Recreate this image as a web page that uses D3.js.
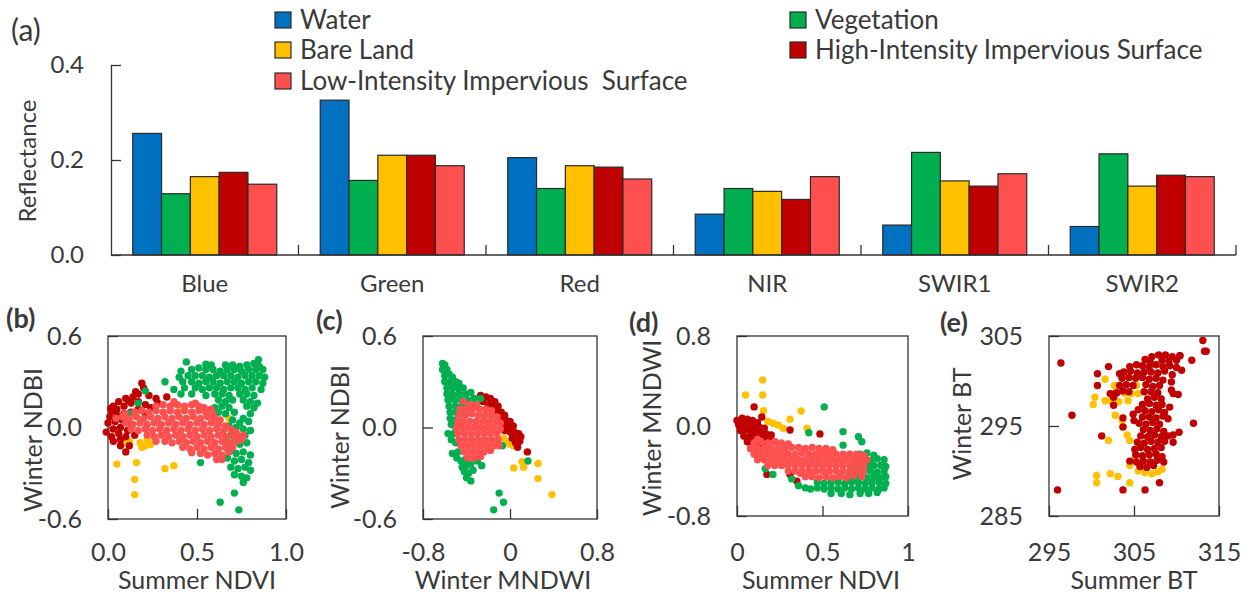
<!DOCTYPE html>
<html><head><meta charset="utf-8">
<script src="https://cdn.jsdelivr.net/npm/d3@7"></script>
<style>
body{margin:0;background:#fff}
svg text{font-family:Lato,"Open Sans",sans-serif;fill:#3a3a3a}
</style></head><body>
<svg id="c" width="1252" height="594"></svg>
<script>
// ---------- Bar chart data (a) ----------
const categories = ["Blue","Green","Red","NIR","SWIR1","SWIR2"];
const classNames = ["Water","Vegetation","Bare Land","High-Intensity Impervious Surface","Low-Intensity Impervious  Surface"];
const classColors = ["#0070C0","#00B050","#FFC000","#C00000","#FF5050"];
const water      = [0.256,0.326,0.205,0.086,0.063,0.060];
const vegetation = [0.129,0.157,0.140,0.140,0.216,0.213];
const bareLand   = [0.165,0.210,0.188,0.134,0.156,0.145];
const highImp    = [0.174,0.210,0.185,0.117,0.145,0.168];
const lowImp     = [0.149,0.188,0.160,0.165,0.171,0.165];
const reflTicks  = [0,0.2,0.4];

// ---------- Scatter (b): Summer NDVI vs Winter NDBI ----------
const bTicksX=[0,0.5,1], bLabelsX=["0.0","0.5","1.0"], bTicksY=[-0.6,0,0.6], bLabelsY=["-0.6","0.0","0.6"];
const bBare=[[0.05,-0.24],[0.16,-0.23],[0.15,-0.34],[0.15,-0.44],[0.32,-0.27],[0.37,-0.25],[0.18,-0.1],[0.21,-0.12],[0.24,-0.11],[0.22,-0.08],[0.19,-0.13],[0.1,-0.1],[0.12,-0.09],[0.68,0.06],[0.41,0.13]];
const bHigh=[[0.19,0.29],[0.2,0.26],[0.23,0.21],[0.27,0.19],[0.33,0.2],[0.17,0.22],[0.14,0.2],[0.1,0.19],[0.06,0.17],[0.03,0.14],[0.02,0.11],[0.05,0.12],[0.09,0.14],[0.13,0.16],[0.17,0.17],[0.21,0.15],[0.24,0.13],[0.28,0.16],[0.01,0.07],[0.05,0.08],[0.09,0.09],[0.13,0.1],[0.17,0.12],[0.21,0.09],[0.0,0.03],[0.04,0.04],[0.08,0.05],[0.12,0.03],[-0.01,-0.03],[0.03,-0.01],[0.07,0.0],[0.11,-0.02],[0.02,-0.06],[0.06,-0.04],[0.1,-0.06],[0.03,-0.09],[0.07,-0.08],[0.07,-0.12],[0.1,-0.16],[0.12,-0.12],[0.15,-0.05],[0.015,0.125],[0.115,0.175],[0.155,0.235]];
const bVeg=[[0.44,0.43],[0.58,0.41],[0.66,0.41],[0.70,0.41],[0.74,0.40],[0.78,0.41],[0.82,0.42],[0.85,0.40],
[0.41,0.37],[0.47,0.38],[0.51,0.39],[0.55,0.38],[0.59,0.38],[0.63,0.37],[0.67,0.38],[0.71,0.38],[0.75,0.37],[0.79,0.38],[0.83,0.38],[0.87,0.38],
[0.40,0.33],[0.45,0.34],[0.49,0.34],[0.53,0.34],[0.57,0.33],[0.61,0.34],[0.65,0.34],[0.69,0.34],[0.73,0.33],[0.77,0.34],[0.81,0.34],[0.85,0.34],
[0.32,0.30],[0.42,0.30],[0.47,0.30],[0.51,0.29],[0.55,0.30],[0.59,0.30],[0.63,0.29],[0.67,0.30],[0.71,0.30],[0.75,0.29],[0.79,0.30],[0.83,0.30],[0.87,0.29],
[0.37,0.25],[0.43,0.26],[0.49,0.26],[0.53,0.25],[0.57,0.26],[0.61,0.26],[0.65,0.25],[0.69,0.26],[0.73,0.26],[0.77,0.25],[0.81,0.26],[0.86,0.25],
[0.41,0.22],[0.47,0.22],[0.55,0.21],[0.60,0.22],[0.64,0.22],[0.68,0.21],[0.74,0.22],[0.78,0.22],[0.82,0.21],
[0.62,0.18],[0.66,0.17],[0.70,0.18],[0.76,0.18],[0.80,0.17],[0.84,0.16],
[0.60,0.13],[0.64,0.14],[0.68,0.13],[0.78,0.14],[0.82,0.13],
[0.62,0.10],[0.66,0.09],[0.71,0.10],[0.80,0.09],[0.76,0.06],
[0.70,0.05],[0.74,0.03],[0.79,0.04],[0.68,0.01],[0.72,0.0],[0.76,-0.01],[0.80,-0.02],
[0.69,-0.05],[0.73,-0.06],[0.77,-0.05],[0.66,-0.09],[0.70,-0.10],[0.74,-0.11],[0.78,-0.10],[0.67,-0.14],
[0.69,-0.15],[0.72,-0.17],[0.76,-0.16],[0.80,-0.18],[0.67,-0.20],[0.71,-0.22],[0.75,-0.21],[0.79,-0.23],
[0.69,-0.26],[0.73,-0.27],[0.77,-0.26],[0.80,-0.28],[0.71,-0.31],[0.75,-0.32],[0.78,-0.33],[0.76,-0.36],
[0.63,-0.49],[0.735,-0.54],[0.71,-0.43],[0.52,-0.23],[0.21,0.24],[0.17,0.16],[0.12,0.09],[0.88,0.33],[0.845,0.445],[0.55,0.415]];
const bLow=[[0.27,0.14],[0.31,0.15],[0.35,0.14],[0.39,0.15],[0.43,0.14],[0.47,0.15],[0.51,0.14],[0.54,0.13],[0.37,0.17],[0.49,0.16],[0.58,0.12],
[0.15,0.10],[0.19,0.11],[0.23,0.10],[0.27,0.11],[0.31,0.10],[0.35,0.11],[0.39,0.10],[0.43,0.11],[0.47,0.10],[0.51,0.11],[0.55,0.10],[0.59,0.09],
[0.08,0.07],[0.12,0.06],[0.16,0.07],[0.20,0.06],[0.24,0.07],[0.28,0.06],[0.32,0.07],[0.36,0.06],[0.40,0.07],[0.44,0.06],[0.48,0.07],[0.52,0.06],[0.56,0.07],[0.60,0.06],[0.63,0.05],
[0.10,0.03],[0.14,0.02],[0.18,0.03],[0.22,0.02],[0.26,0.03],[0.30,0.02],[0.34,0.03],[0.38,0.02],[0.42,0.03],[0.46,0.02],[0.50,0.03],[0.54,0.02],[0.58,0.03],[0.62,0.02],[0.66,0.01],
[0.13,-0.01],[0.17,-0.02],[0.21,-0.01],[0.25,-0.02],[0.29,-0.01],[0.33,-0.02],[0.37,-0.01],[0.41,-0.02],[0.45,-0.01],[0.49,-0.02],[0.53,-0.01],[0.57,-0.02],[0.61,-0.01],[0.65,-0.02],[0.69,-0.01],[0.72,-0.03],
[0.22,-0.05],[0.26,-0.06],[0.30,-0.05],[0.34,-0.06],[0.38,-0.05],[0.42,-0.06],[0.46,-0.05],[0.50,-0.06],[0.54,-0.05],[0.58,-0.06],[0.62,-0.05],[0.66,-0.06],[0.70,-0.05],[0.74,-0.06],
[0.32,-0.09],[0.36,-0.10],[0.40,-0.09],[0.44,-0.10],[0.48,-0.09],[0.52,-0.10],[0.56,-0.09],[0.60,-0.10],[0.64,-0.09],[0.68,-0.10],[0.72,-0.09],[0.75,-0.08],
[0.42,-0.13],[0.46,-0.14],[0.50,-0.13],[0.54,-0.14],[0.58,-0.13],[0.62,-0.14],[0.66,-0.13],[0.70,-0.13],
[0.52,-0.17],[0.56,-0.18],[0.60,-0.17],[0.64,-0.18],[0.68,-0.16],[0.61,-0.21],[0.64,-0.21],[0.76,-0.05],[0.095,0.09],[0.045,0.06],[0.27,-0.09],[0.47,-0.165]];

// ---------- Scatter (c): Winter MNDWI vs Winter NDBI ----------
const cTicksX=[-0.8,0,0.8], cLabelsX=["-0.8","0","0.8"], cTicksY=[-0.6,0,0.6], cLabelsY=["-0.6","0.0","0.6"];
const cBare=[[-0.03,-0.1],[0.0,-0.11],[0.03,-0.12],[0.01,-0.09],[-0.06,-0.07],[0.11,-0.225],[0.126,-0.26],[0.034,-0.265],[0.257,-0.236],[0.257,-0.335],[0.386,-0.44]];
const cHigh=[[-0.27,0.21],[-0.22,0.2],[-0.18,0.19],[-0.14,0.17],[-0.2,0.15],[-0.15,0.14],[-0.11,0.14],[-0.13,0.1],[-0.08,0.1],[-0.05,0.08],[-0.09,0.05],[-0.04,0.05],[0.0,0.04],[-0.06,0.02],[-0.01,0.01],[0.03,0.01],[-0.05,-0.02],[0.0,-0.03],[0.04,-0.03],[0.08,-0.04],[0.1,-0.06],[0.06,-0.07],[0.02,-0.07],[0.09,-0.09],[0.05,-0.1],[0.07,-0.13],[0.16,-0.16],[-0.53,0.19],[-0.25,0.17]];
const cVeg=[[-0.62,0.42],[-0.6,0.41],[-0.58,0.38],[-0.62,0.38],[-0.6,0.34],[-0.56,0.35],[-0.53,0.33],[-0.6,0.3],[-0.55,0.3],[-0.5,0.3],[-0.47,0.29],
[-0.58,0.26],[-0.53,0.26],[-0.48,0.26],[-0.43,0.26],[-0.58,0.22],[-0.53,0.22],[-0.47,0.22],[-0.41,0.22],[-0.36,0.23],
[-0.57,0.18],[-0.51,0.18],[-0.45,0.18],[-0.39,0.18],[-0.33,0.19],[-0.27,0.19],[-0.56,0.14],[-0.5,0.14],[-0.44,0.14],[-0.38,0.15],[-0.31,0.15],
[-0.55,0.1],[-0.5,0.1],[-0.44,0.1],[-0.55,0.06],[-0.5,0.05],[-0.54,0.02],[-0.5,0.0],[-0.57,-0.04],[-0.52,-0.04],[-0.54,-0.08],[-0.5,-0.1],
[-0.53,-0.17],[-0.48,-0.16],[-0.49,-0.2],[-0.45,-0.22],[-0.41,-0.21],[-0.44,-0.26],[-0.4,-0.25],[-0.36,-0.24],[-0.42,-0.29],[-0.38,-0.3],[-0.34,-0.28],
[-0.4,-0.33],[-0.36,-0.35],[-0.26,-0.25],[-0.3,-0.22],[-0.1,-0.43],[-0.06,-0.49],[-0.15,-0.54],[0.165,-0.22],[-0.07,-0.12]];
const cLow=[[-0.43,0.17],[-0.37,0.15],[-0.31,0.15],[-0.46,0.12],[-0.4,0.12],[-0.34,0.13],[-0.28,0.12],[-0.22,0.12],[-0.17,0.11],
[-0.47,0.08],[-0.41,0.08],[-0.35,0.09],[-0.29,0.08],[-0.23,0.08],[-0.17,0.08],[-0.12,0.07],
[-0.48,0.04],[-0.43,0.04],[-0.37,0.04],[-0.31,0.04],[-0.25,0.04],[-0.19,0.04],[-0.13,0.04],[-0.09,0.03],
[-0.49,0.0],[-0.45,0.0],[-0.39,0.0],[-0.33,0.0],[-0.27,0.0],[-0.21,0.0],[-0.15,0.0],[-0.09,-0.01],
[-0.48,-0.04],[-0.42,-0.04],[-0.36,-0.04],[-0.30,-0.04],[-0.24,-0.04],[-0.18,-0.04],[-0.12,-0.04],
[-0.47,-0.08],[-0.41,-0.08],[-0.35,-0.08],[-0.29,-0.08],[-0.23,-0.08],[-0.17,-0.08],[-0.11,-0.08],
[-0.45,-0.12],[-0.39,-0.12],[-0.33,-0.12],[-0.27,-0.12],[-0.21,-0.12],[-0.15,-0.12],[-0.1,-0.12],
[-0.42,-0.16],[-0.36,-0.16],[-0.3,-0.16],[-0.24,-0.16],[-0.18,-0.15],[-0.39,-0.2],[-0.33,-0.2],[-0.27,-0.19]];

// ---------- Scatter (d): Summer NDVI vs Winter MNDWI ----------
const dTicksX=[0,0.5,1], dLabelsX=["0","0.5","1"], dTicksY=[-0.8,0,0.8], dLabelsY=["-0.8","0.0","0.8"];
const dBare=[[0.15,0.41],[0.05,0.275],[0.15,0.275],[0.155,0.136],[0.31,0.06],[0.375,0.133],[0.21,0.024],[0.24,0.01],[0.27,-0.02],[0.41,-0.02],[0.18,0.04]];
const dHigh=[[0.0,0.05],[0.03,0.07],[0.06,0.06],[0.09,0.05],[0.12,0.03],[0.01,0.01],[0.04,0.02],[0.07,0.01],[0.1,0.0],[0.13,-0.01],[0.16,-0.02],
[0.02,-0.04],[0.05,-0.03],[0.08,-0.05],[0.11,-0.04],[0.14,-0.06],[0.17,-0.07],[0.2,-0.08],[0.04,-0.09],[0.07,-0.1],[0.1,-0.09],[0.13,-0.11],[0.16,-0.12],[0.19,-0.13],[0.22,-0.14],
[0.06,-0.14],[0.09,-0.15],[0.12,-0.16],[0.15,-0.18],[0.18,-0.19],[0.08,-0.2],[0.11,-0.21],[0.14,-0.24],[0.12,-0.27],[0.1,0.17],[0.145,0.08],[0.31,-0.035],[0.485,-0.07],[0.35,-0.49],[0.31,-0.43],[0.175,-0.43]];
const dVeg=[[0.72,-0.25],[0.76,-0.24],[0.8,-0.26],[0.7,-0.3],[0.74,-0.3],[0.78,-0.31],[0.82,-0.29],[0.86,-0.3],
[0.68,-0.35],[0.72,-0.35],[0.76,-0.36],[0.8,-0.35],[0.84,-0.35],[0.87,-0.36],[0.66,-0.41],[0.7,-0.4],[0.74,-0.4],[0.78,-0.4],[0.82,-0.41],[0.86,-0.4],
[0.6,-0.45],[0.64,-0.46],[0.68,-0.45],[0.72,-0.45],[0.76,-0.46],[0.8,-0.45],[0.84,-0.46],[0.87,-0.45],
[0.47,-0.5],[0.51,-0.51],[0.55,-0.5],[0.59,-0.5],[0.63,-0.51],[0.67,-0.5],[0.71,-0.5],[0.75,-0.51],[0.79,-0.5],[0.83,-0.5],[0.87,-0.51],
[0.43,-0.56],[0.47,-0.55],[0.51,-0.56],[0.55,-0.55],[0.59,-0.56],[0.63,-0.55],[0.67,-0.56],[0.71,-0.55],[0.75,-0.56],[0.79,-0.55],[0.83,-0.56],[0.86,-0.55],
[0.55,-0.6],[0.61,-0.6],[0.66,-0.61],[0.72,-0.6],[0.77,-0.6],[0.82,-0.59],
[0.51,0.17],[0.42,-0.06],[0.62,-0.05],[0.71,-0.095],[0.73,-0.14],[0.62,-0.17],[0.32,-0.47],[0.21,-0.43],[0.165,-0.38],[0.36,-0.53],[0.4,-0.55]];
const dLow=[[0.1,-0.15],[0.14,-0.14],[0.18,-0.15],[0.22,-0.14],[0.26,-0.15],[0.3,-0.16],[0.12,-0.12],
[0.08,-0.2],[0.12,-0.2],[0.16,-0.2],[0.2,-0.2],[0.24,-0.2],[0.28,-0.2],[0.32,-0.19],[0.36,-0.19],[0.4,-0.2],[0.44,-0.19],[0.48,-0.2],[0.52,-0.2],[0.56,-0.21],
[0.1,-0.25],[0.14,-0.25],[0.18,-0.25],[0.22,-0.25],[0.26,-0.25],[0.3,-0.25],[0.34,-0.25],[0.38,-0.24],[0.42,-0.25],[0.46,-0.25],[0.5,-0.25],[0.54,-0.25],[0.58,-0.25],[0.62,-0.25],[0.66,-0.25],[0.7,-0.25],[0.74,-0.26],
[0.12,-0.3],[0.16,-0.3],[0.2,-0.3],[0.24,-0.3],[0.28,-0.3],[0.32,-0.3],[0.36,-0.3],[0.4,-0.3],[0.44,-0.3],[0.48,-0.3],[0.52,-0.3],[0.56,-0.3],[0.6,-0.3],[0.64,-0.3],[0.68,-0.3],[0.72,-0.3],[0.76,-0.3],
[0.18,-0.35],[0.22,-0.35],[0.26,-0.35],[0.3,-0.35],[0.34,-0.35],[0.38,-0.35],[0.42,-0.35],[0.46,-0.35],[0.5,-0.35],[0.54,-0.35],[0.58,-0.35],[0.62,-0.35],[0.66,-0.35],[0.7,-0.35],[0.74,-0.35],
[0.3,-0.4],[0.34,-0.4],[0.38,-0.4],[0.42,-0.4],[0.46,-0.4],[0.5,-0.4],[0.54,-0.4],[0.58,-0.4],[0.62,-0.4],[0.66,-0.4],[0.7,-0.4],[0.74,-0.4],
[0.4,-0.45],[0.44,-0.45],[0.48,-0.46],[0.52,-0.45],[0.56,-0.46],[0.6,-0.45],[0.64,-0.46],[0.68,-0.44],[0.73,-0.45],[0.37,-0.42]];

// ---------- Scatter (e): Summer BT vs Winter BT ----------
const eTicksX=[295,305,315], eLabelsX=["295","305","315"], eTicksY=[285,295,305], eLabelsY=["285","295","305"];
const eBare=[[301.6,300.2],[302.7,299.5],[300.4,298.2],[300.2,297.4],[301.6,297.8],[302.2,297.8],[302.8,298.7],[303.9,298.6],[304.7,298.6],[305.5,298.6],[305.3,299.5],[303.2,297.7],
[302.8,296.2],[303.7,294.9],[304.2,294.0],[302.0,293.4],[304.5,293.4],[305.1,291.3],[304.5,290.6],[305.5,290.0],[306.3,289.8],[307.1,289.7],[307.8,289.9],[308.3,290.2],[305.9,290.4],
[300.6,289.5],[300.6,288.7],[302.2,289.7],[303.1,289.4],[304.5,288.7],[303.6,295.6],[304.3,297.8]];
const eHigh=[[306.3,302.4],[307.1,302.7],[307.9,302.9],[308.7,302.9],[309.5,302.7],[310.4,302.8],[306.9,302.1],[308.3,302.3],[309.1,302.2],[310.0,302.3],
[304.5,301.6],[305.3,301.8],[306.0,301.7],[306.8,301.6],[307.6,301.8],[308.4,301.6],[309.2,301.7],[310.0,301.5],[310.6,301.2],
[303.8,301.0],[304.6,301.1],[305.4,300.9],[306.2,301.0],[307.0,301.0],[307.8,300.9],[308.6,301.1],[309.5,300.7],
[303.6,300.3],[304.4,300.4],[305.2,300.3],[306.0,300.4],[306.8,300.2],[307.6,300.3],[308.4,300.1],
[303.3,299.5],[304.1,299.6],[304.9,299.5],[306.4,299.6],[307.2,299.4],[308.0,299.5],
[302.2,298.6],[303.0,298.7],[303.7,298.9],[304.4,298.8],[306.2,298.8],[307.0,298.8],[307.8,298.7],[309.4,299.0],
[302.6,298.2],[306.6,298.0],[307.4,298.2],[308.2,298.0],[310.2,298.5],
[306.0,297.4],[306.8,297.5],[307.6,297.3],[308.3,297.4],[302.6,297.3],
[304.9,296.3],[305.5,296.8],[306.3,296.7],[307.1,296.6],[307.9,296.8],[308.6,296.5],
[303.7,295.9],[305.0,295.6],[306.0,296.0],[306.8,296.0],[307.6,295.9],[308.4,296.1],[309.0,295.8],
[305.6,295.3],[306.4,295.2],[307.2,295.4],[308.0,295.2],[312.0,295.3],
[306.1,294.6],[306.9,294.5],[307.7,294.7],[308.5,294.4],[309.6,294.0],[310.3,294.3],
[305.8,293.9],[306.6,293.8],[307.4,294.0],[308.2,293.8],[309.0,293.9],[301.2,293.9],
[305.4,293.2],[306.2,293.1],[307.0,293.3],[307.8,293.2],[308.6,293.3],
[305.1,292.4],[305.8,292.6],[306.6,292.4],[307.4,292.5],[308.2,292.6],[309.6,293.2],
[305.2,291.8],[306.0,291.7],[306.8,291.8],[307.6,291.9],[308.3,291.6],
[304.5,291.1],[305.3,291.0],[306.1,291.1],[306.9,291.0],[307.7,291.2],[308.5,291.0],
[305.7,290.5],[306.5,290.4],[307.3,290.6],
[296.4,302.0],[297.7,296.2],[296.0,287.9],[300.7,300.8],[300.7,299.5],[302.0,301.6],[303.3,300.8],[303.7,287.9],[306.3,287.9],[308.0,288.7],
[311.8,302.3],[313.1,304.5],[313.3,303.3],[313.5,303.3],[310.4,302.8],[309.4,299.9],[309.6,298.6],[309.2,297.1],[302.8,298.6],[303.7,294.9]];

// ---------- drawing ----------
const svg = d3.select("#c");
const FS_A = 24, FS_L = 26, FS_S = 25, AX = "#333", R = 3.7;
const font = "Lato, 'Open Sans', sans-serif";

// (a) bar chart
const series = [water, vegetation, bareLand, highImp, lowImp];
const x0 = d3.scaleBand().domain(categories).range([111,1236]).paddingInner(0.232).paddingOuter(0.116);
const x1 = d3.scaleBand().domain(d3.range(series.length)).range([0, x0.bandwidth()]);
const yA = d3.scaleLinear().domain([0,0.4]).range([255,65]);

const gA = svg.append("g");
categories.forEach((c, ci) => {
  gA.append("g").selectAll("rect").data(series.map((s,si)=>({si, v:s[ci]}))).join("rect")
    .attr("x", d => x0(c) + x1(d.si)).attr("width", x1.bandwidth())
    .attr("y", d => yA(d.v)).attr("height", d => yA(0) - yA(d.v))
    .attr("fill", d => classColors[d.si]).attr("stroke", "#2a2a2a").attr("stroke-width", 1.2);
});
const yAxisA = gA.append("g").attr("transform","translate(111,0)")
  .call(d3.axisLeft(yA).tickValues(reflTicks).tickFormat(d3.format(".1f")).tickSizeInner(-10).tickSizeOuter(0).tickPadding(27));
yAxisA.selectAll("path,line").attr("stroke", AX).attr("stroke-width",1.3);
yAxisA.selectAll("text").attr("font-size", FS_A).attr("font-family", font).attr("fill","#3a3a3a");
const xAxisA = gA.append("g").attr("transform","translate(0,255)")
  .call(d3.axisBottom(x0).tickSize(0).tickPadding(20));
xAxisA.select(".domain").remove();
xAxisA.selectAll("text").attr("font-size", FS_A).attr("font-family", font).attr("fill","#3a3a3a");
gA.append("line").attr("x1",111).attr("x2",1236).attr("y1",255).attr("y2",255).attr("stroke",AX).attr("stroke-width",1.3);
gA.append("g").selectAll("line").data(d3.range(1, categories.length+1)).join("line")
  .attr("x1", i => x0.range()[0] + i*x0.step()).attr("x2", i => x0.range()[0] + i*x0.step())
  .attr("y1", 255).attr("y2", 245).attr("stroke", AX).attr("stroke-width",1.3);
gA.append("text").attr("transform","translate(28,161) rotate(-90)").attr("text-anchor","middle")
  .attr("dy","0.35em").attr("font-size",FS_A).text("Reflectance");
gA.append("text").attr("x",11).attr("y",41).attr("font-size",30).text("(a)");

// legend
const legendPos = [[275,20],[790,20],[275,50],[790,50],[275,81]];
const gL = svg.append("g");
classNames.forEach((name,k) => {
  const [lx,ly] = legendPos[k];
  gL.append("rect").attr("x",lx).attr("y",ly-8).attr("width",16).attr("height",16)
    .attr("fill",classColors[k]).attr("stroke","#2a2a2a").attr("stroke-width",1.2);
  gL.append("text").attr("x",lx+25).attr("y",ly).attr("dy","0.35em").attr("font-size",FS_L)
    .attr("xml:space","preserve").style("white-space","pre").text(name);
});

// scatter panels
function panel(p){
  const g = svg.append("g");
  const xs = d3.scaleLinear().domain(p.xd).range([p.l, p.r]);
  const ys = d3.scaleLinear().domain(p.yd).range([p.b, p.t]);
  g.append("rect").attr("x",p.l).attr("y",p.t).attr("width",p.r-p.l).attr("height",p.b-p.t)
    .attr("fill","none").attr("stroke",AX).attr("stroke-width",1.3);
  const ax = g.append("g").attr("transform",`translate(0,${p.b})`)
    .call(d3.axisBottom(xs).tickValues(p.xt).tickFormat((d,i)=>p.xl[i]).tickSizeInner(-10).tickSizeOuter(0).tickPadding(552 - p.b - 9));
  const ay = g.append("g").attr("transform",`translate(${p.l},0)`)
    .call(d3.axisLeft(ys).tickValues(p.yt).tickFormat((d,i)=>p.yl[i]).tickSizeInner(-10).tickSizeOuter(0).tickPadding(26));
  [ax,ay].forEach(a => {
    a.select(".domain").remove();
    a.selectAll("line").attr("stroke",AX).attr("stroke-width",1.3);
    a.selectAll("text").attr("font-size",FS_S).attr("font-family",font).attr("fill","#3a3a3a");
  });
  p.series.forEach(s => {
    g.append("g").selectAll("circle").data(s.data).join("circle")
      .attr("cx", d => xs(d[0])).attr("cy", d => ys(d[1])).attr("r", R).attr("fill", s.color);
  });
  g.append("text").attr("x",p.xTx).attr("y",589).attr("text-anchor","middle").attr("font-size",FS_S).text(p.xTitle);
  g.append("text").attr("transform",`translate(${p.yTx},${p.yTy}) rotate(-90)`).attr("text-anchor","middle")
    .attr("dy","0.35em").attr("font-size",FS_S).text(p.yTitle);
  g.append("text").attr("x",p.lx).attr("y",p.ly).attr("font-size",27).attr("font-weight","bold").text(p.label);
}
const C = classColors;
panel({l:108,r:286,t:336,b:519,xd:[0,1],yd:[-0.6,0.6],xt:bTicksX,xl:bLabelsX,yt:bTicksY,yl:bLabelsY,
  series:[{data:bBare,color:C[2]},{data:bHigh,color:C[3]},{data:bVeg,color:C[1]},{data:bLow,color:C[4]}],
  xTitle:"Summer NDVI",xTx:197,yTitle:"Winter NDBI",yTx:33,yTy:440,label:"(b)",lx:6,ly:328});
panel({l:423,r:597,t:336,b:519,xd:[-0.8,0.8],yd:[-0.6,0.6],xt:cTicksX,xl:cLabelsX,yt:cTicksY,yl:cLabelsY,
  series:[{data:cBare,color:C[2]},{data:cHigh,color:C[3]},{data:cVeg,color:C[1]},{data:cLow,color:C[4]}],
  xTitle:"Winter MNDWI",xTx:503,yTitle:"Winter NDBI",yTx:340,yTy:437,label:"(c)",lx:316,ly:330});
panel({l:737,r:908,t:336,b:516,xd:[0,1],yd:[-0.8,0.8],xt:dTicksX,xl:dLabelsX,yt:dTicksY,yl:dLabelsY,
  series:[{data:dBare,color:C[2]},{data:dHigh,color:C[3]},{data:dVeg,color:C[1]},{data:dLow,color:C[4]}],
  xTitle:"Summer NDVI",xTx:821,yTitle:"Winter MNDWI",yTx:652,yTy:428,label:"(d)",lx:629,ly:332});
panel({l:1049,r:1219,t:336,b:516,xd:[295,315],yd:[285,305],xt:eTicksX,xl:eLabelsX,yt:eTicksY,yl:eLabelsY,
  series:[{data:eBare,color:C[2]},{data:eHigh,color:C[3]}],
  xTitle:"Summer BT",xTx:1134,yTitle:"Winter BT",yTx:962,yTy:424,label:"(e)",lx:940,ly:332});
</script>
</body></html>
